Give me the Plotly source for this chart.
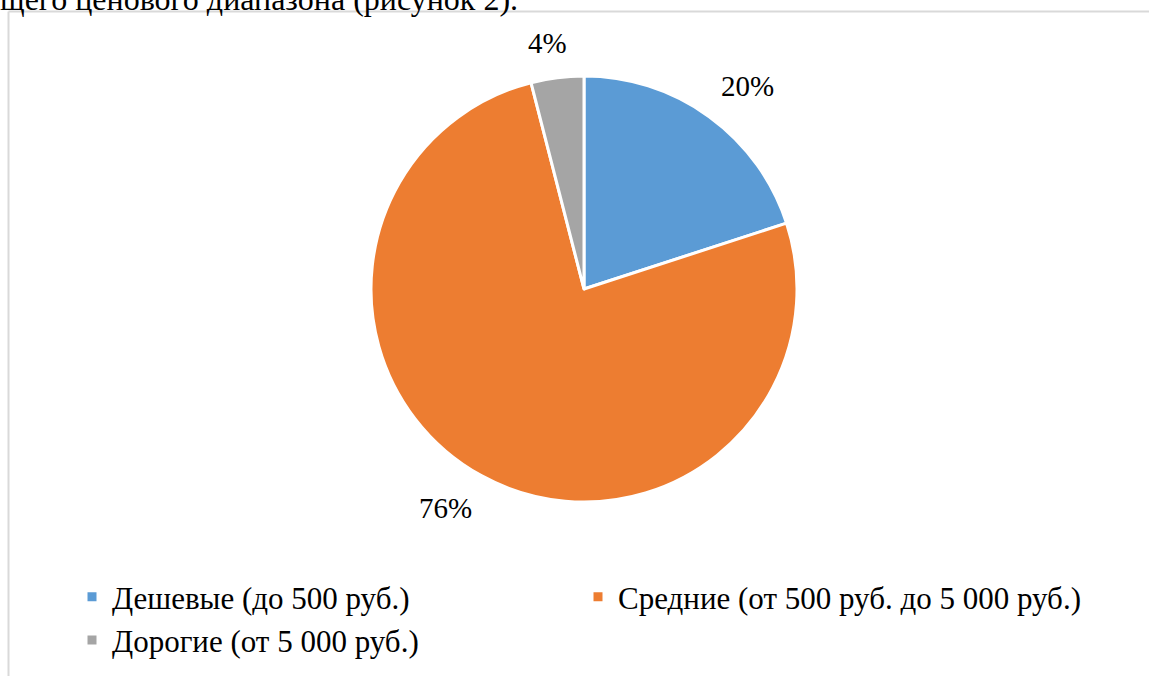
import math
import plotly.graph_objects as go

labels = ["Дешевые (до 500 руб.)", "Средние (от 500 руб. до 5 000 руб.)", "Дорогие (от 5 000 руб.)"]
values = [20, 76, 4]
colors = ["#5B9BD5", "#ED7D31", "#A5A5A5"]

W, H = 1149, 676
cx, cy, r = 584, 289, 213
SERIF = "Liberation Serif, DejaVu Serif, serif"
FS_LABEL = 29
FS_LEGEND = 31

fig = go.Figure(
    go.Pie(
        labels=labels,
        values=values,
        sort=False,
        direction="clockwise",
        rotation=0,
        marker=dict(colors=colors, line=dict(color="white", width=3)),
        textinfo="none",
        hoverinfo="label+percent",
        domain=dict(
            x=[(cx - r) / W, (cx + r) / W],
            y=[1 - (cy + r) / H, 1 - (cy - r) / H],
        ),
    )
)

# подписи долей снаружи круга (как "наилучшее положение" в Excel)
total = sum(values)
cum = 0
for v in values:
    ang = 2 * math.pi * (cum + v / 2) / total
    cum += v
    dx, dy = math.sin(ang), -math.cos(ang)  # dy вниз в пикселях
    txt = f"{round(100 * v / total)}%"
    half_w = FS_LABEL * (0.5 * (len(txt) - 1) + 0.833) / 2
    half_h = FS_LABEL / 2
    rr = r + 20
    px = cx + rr * dx + half_w * max(-1, min(1, 3 * dx))
    py = cy + rr * dy + half_h * max(-1, min(1, 3 * dy))
    fig.add_annotation(
        text=txt, xref="paper", yref="paper",
        x=px / W, y=1 - py / H,
        showarrow=False, xanchor="center", yanchor="middle",
        font=dict(family=SERIF, size=FS_LABEL, color="black"),
    )

# рамка области диаграммы
fig.add_shape(type="line", xref="paper", yref="paper",
              x0=8.5 / W, x1=1.0, y0=1 - 11.5 / H, y1=1 - 11.5 / H,
              line=dict(color="#D9D9D9", width=2))
fig.add_shape(type="line", xref="paper", yref="paper",
              x0=8.5 / W, x1=8.5 / W, y0=0, y1=1 - 11.5 / H,
              line=dict(color="#D9D9D9", width=2))

# обрезанная строка текста документа над диаграммой
fig.add_annotation(
    text="щего ценового диапазона (рисунок 2).",
    xref="paper", yref="paper", x=-2 / W, y=1 + 1 / H,
    xanchor="left", yanchor="middle", showarrow=False,
    font=dict(family=SERIF, size=32, color="black"),
)

fig.update_layout(
    width=W,
    height=H,
    margin=dict(l=0, r=0, t=0, b=0, autoexpand=False),
    paper_bgcolor="white",
    plot_bgcolor="white",
    showlegend=True,
    legend=dict(
        orientation="h",
        x=72 / W,
        xanchor="left",
        y=1 - 570 / H,
        yanchor="top",
        entrywidth=461,
        entrywidthmode="pixels",
        font=dict(family=SERIF, size=FS_LEGEND, color="black"),
        traceorder="normal",
    ),
)

fig.write_html(
    "out.html",
    config={"displayModeBar": False},
    post_script="document.body.style.margin = '0';",
)
